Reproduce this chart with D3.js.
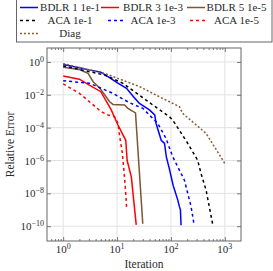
<!DOCTYPE html>
<html>
<head>
<meta charset="utf-8">
<script src="https://cdn.jsdelivr.net/npm/d3@7"></script>
<style>
  body { margin: 0; background: #fff; }
  text { font-family: "Liberation Serif", "DejaVu Serif", serif; fill: #2a2a2a; }
</style>
</head>
<body>
<div id="chart"></div>
<script>
// Chart Params
var svgWidth = 273;
var svgHeight = 271;
var margin = { top: 48, right: 32, bottom: 30, left: 47 };
var width = 241 - margin.left;
var height = 241 - margin.top;

// series data
var bdlr1X = [1, 2, 3, 5, 7, 10, 15, 20, 26, 35, 40, 50, 53, 66, 76, 82, 93, 110, 134, 144, 150, 154];
var bdlr1Y = [0.69, 0.45, 0.33, 0.24, 0.12, 0.055, 0.025, 0.008, 0.003, 1.6e-3, 1.2e-3, 6e-4, 1.8e-4, 1.7e-5, 1.1e-5, 1.7e-6, 3.3e-7, 3e-8, 3.9e-9, 1.5e-9, 1e-9, 1.15e-10];

var bdlr3X = [1, 2, 3, 5, 7.8, 10.4, 14.5, 15.4, 18.4, 22.7];
var bdlr3Y = [0.14, 0.089, 0.04, 0.0155, 1.2e-3, 1.45e-4, 1.7e-5, 1e-6, 1e-7, 1.2e-10];

var bdlr5X = [1, 2, 2.9, 3.6, 4.8, 7.3, 8.4, 13.8, 15.9, 22, 30];
var bdlr5Y = [0.48, 0.35, 0.2, 0.063, 0.025, 3.8e-3, 2.6e-3, 2.4e-3, 1.5e-3, 8e-4, 1.4e-10];

var aca1X = [1, 2, 5.9, 12.9, 34.6, 46, 94, 108, 196, 313, 362, 448, 591];
var aca1Y = [0.575, 0.35, 0.16, 0.05, 4.8e-3, 2.4e-3, 4.6e-4, 2.9e-4, 1.4e-5, 1.05e-6, 1.6e-7, 1.6e-8, 1.45e-10];

var aca3X = [1, 3.1, 8.4, 17, 30, 57, 81, 108, 166, 178, 236, 270];
var aca3Y = [0.072, 0.05, 0.0123, 3.3e-3, 1.5e-3, 1.8e-4, 2.2e-5, 1.7e-6, 1e-7, 6.3e-8, 1.6e-9, 1.15e-10];

var aca5X = [1, 2, 3.35, 5.1, 6.8, 9, 10.4, 11.2, 12.5, 13.5, 14.5, 15];
var aca5Y = [0.046, 0.0123, 3e-3, 9.3e-4, 5.9e-4, 4.6e-4, 1.8e-4, 2.8e-5, 3e-6, 2e-7, 1e-8, 1.5e-9];

var diagX = [1, 5.9, 26, 61, 143, 165, 448, 1000];
var diagY = [0.79, 0.2, 0.032, 7.6e-3, 1.9e-3, 7.4e-4, 4.5e-5, 6.6e-7];

var xTicks = [1, 10, 100, 1000];
var xTickExp = ["0", "1", "2", "3"];
var yTicks = [1, 1e-2, 1e-4, 1e-6, 1e-8, 1e-10];
var yTickExp = ["0", "−2", "−4", "−6", "−8", "−10"];

var series = [
  { name: "BDLR 1 1e-1", x: bdlr1X, y: bdlr1Y, color: "#0000ff", dash: null },
  { name: "BDLR 3 1e-3", x: bdlr3X, y: bdlr3Y, color: "#ff0000", dash: null },
  { name: "BDLR 5 1e-5", x: bdlr5X, y: bdlr5Y, color: "#7d5634", dash: null },
  { name: "ACA 1e-1", x: aca1X, y: aca1Y, color: "#000000", dash: "3,3" },
  { name: "ACA 1e-3", x: aca3X, y: aca3Y, color: "#0000ff", dash: "3,3" },
  { name: "ACA 1e-5", x: aca5X, y: aca5Y, color: "#ff0000", dash: "3,3" },
  { name: "Diag", x: diagX, y: diagY, color: "#8a5f36", dash: "2,2" }
];

var svg = d3.select("#chart").append("svg")
  .attr("width", svgWidth)
  .attr("height", svgHeight);

var chartGroup = svg.append("g")
  .attr("transform", `translate(${margin.left}, ${margin.top})`);

var xScale = d3.scaleLog().domain([Math.pow(10, -0.3), Math.pow(10, 3.3)]).range([0, width]);
var yScale = d3.scaleLog().domain([Math.pow(10, -10.9), Math.pow(10, 0.85)]).range([height, 0]);

// grid
chartGroup.selectAll(".xgrid").data(xTicks).enter().append("line")
  .attr("x1", d => xScale(d)).attr("x2", d => xScale(d))
  .attr("y1", 0).attr("y2", height)
  .attr("stroke", "#e2e2e2").attr("stroke-width", 1);
chartGroup.selectAll(".ygrid").data(yTicks).enter().append("line")
  .attr("x1", 0).attr("x2", width)
  .attr("y1", d => yScale(d)).attr("y2", d => yScale(d))
  .attr("stroke", "#e2e2e2").attr("stroke-width", 1);

// minor ticks on x (bottom and top, inward)
var minorX = [];
for (var e = -1; e <= 3; e++) {
  for (var m = 2; m <= 9; m++) {
    var v = m * Math.pow(10, e);
    if (v > xScale.domain()[0] && v < xScale.domain()[1]) minorX.push(v);
  }
}
var bottomMinor = d3.axisBottom(xScale).tickValues(minorX).tickSize(-2).tickFormat("");
var topMinor = d3.axisTop(xScale).tickValues(minorX).tickSize(-2).tickFormat("");
var bottomMajor = d3.axisBottom(xScale).tickValues(xTicks).tickSize(-4).tickFormat("");
var topMajor = d3.axisTop(xScale).tickValues(xTicks).tickSize(-4).tickFormat("");
var leftMajor = d3.axisLeft(yScale).tickValues(yTicks).tickSize(-4).tickFormat("");
var rightMajor = d3.axisRight(yScale).tickValues(yTicks).tickSize(-4).tickFormat("");

[[bottomMinor, height], [bottomMajor, height], [topMinor, 0], [topMajor, 0]].forEach(function(a) {
  chartGroup.append("g").attr("transform", `translate(0, ${a[1]})`).call(a[0])
    .call(g => g.select(".domain").remove())
    .selectAll("line").attr("stroke", "#777");
});
[[leftMajor, 0], [rightMajor, width]].forEach(function(a) {
  chartGroup.append("g").attr("transform", `translate(${a[1]}, 0)`).call(a[0])
    .call(g => g.select(".domain").remove())
    .selectAll("line").attr("stroke", "#777");
});

// lines
var line = d3.line().x(d => xScale(d[0])).y(d => yScale(d[1]));
series.forEach(function(s) {
  chartGroup.append("path")
    .datum(s.x.map((x, i) => [x, s.y[i]]))
    .attr("d", line)
    .attr("fill", "none")
    .attr("stroke", s.color)
    .attr("stroke-width", 1.5)
    .attr("stroke-dasharray", s.dash);
});

// frame
chartGroup.append("rect")
  .attr("width", width).attr("height", height)
  .attr("fill", "none").attr("stroke", "#666").attr("stroke-width", 1);

// tick labels
var xl = chartGroup.selectAll(".xlab").data(xTicks).enter().append("text")
  .attr("x", d => xScale(d)).attr("y", height + 12)
  .attr("text-anchor", "middle").attr("font-size", 11);
xl.append("tspan").text("10");
xl.append("tspan").attr("dy", -4).attr("font-size", 8).text((d, i) => xTickExp[i]);

var yl = chartGroup.selectAll(".ylab").data(yTicks).enter().append("text")
  .attr("x", -3).attr("y", d => yScale(d) + 4)
  .attr("text-anchor", "end").attr("font-size", 11);
yl.append("tspan").text("10");
yl.append("tspan").attr("dy", -4).attr("font-size", 8).text((d, i) => yTickExp[i]);

// axis titles
svg.append("text")
  .attr("x", margin.left + width / 2).attr("y", 268)
  .attr("text-anchor", "middle").attr("font-size", 11.5)
  .text("Iteration");
svg.append("text")
  .attr("transform", `translate(14, ${margin.top + height / 2}) rotate(-90)`)
  .attr("text-anchor", "middle").attr("font-size", 11.5)
  .text("Relative Error");

// legend
var legend = svg.append("g");
legend.append("rect")
  .attr("x", 16.5).attr("y", -0.5).attr("width", 255.5).attr("height", 42.5)
  .attr("fill", "#fff").attr("stroke", "#666").attr("stroke-width", 1);

var legImgX = [[20, 101, 187], [20, 108, 190], [20]];
var legTextCx = [70, 153, 236.5];
var legRowY = [7.5, 20.5, 33.5];
series.forEach(function(s, i) {
  var row = Math.floor(i / 3), col = i % 3;
  var x0 = legImgX[row][col];
  var w = row === 1 ? 15 : 18;
  legend.append("line")
    .attr("x1", x0).attr("x2", x0 + w)
    .attr("y1", legRowY[row]).attr("y2", legRowY[row])
    .attr("stroke", s.color).attr("stroke-width", 1.5)
    .attr("stroke-dasharray", s.dash);
  legend.append("text")
    .attr("x", legTextCx[col]).attr("y", legRowY[row] + 3.5)
    .attr("text-anchor", "middle").attr("font-size", 11)
    .text(s.name);
});
</script>
</body>
</html>
